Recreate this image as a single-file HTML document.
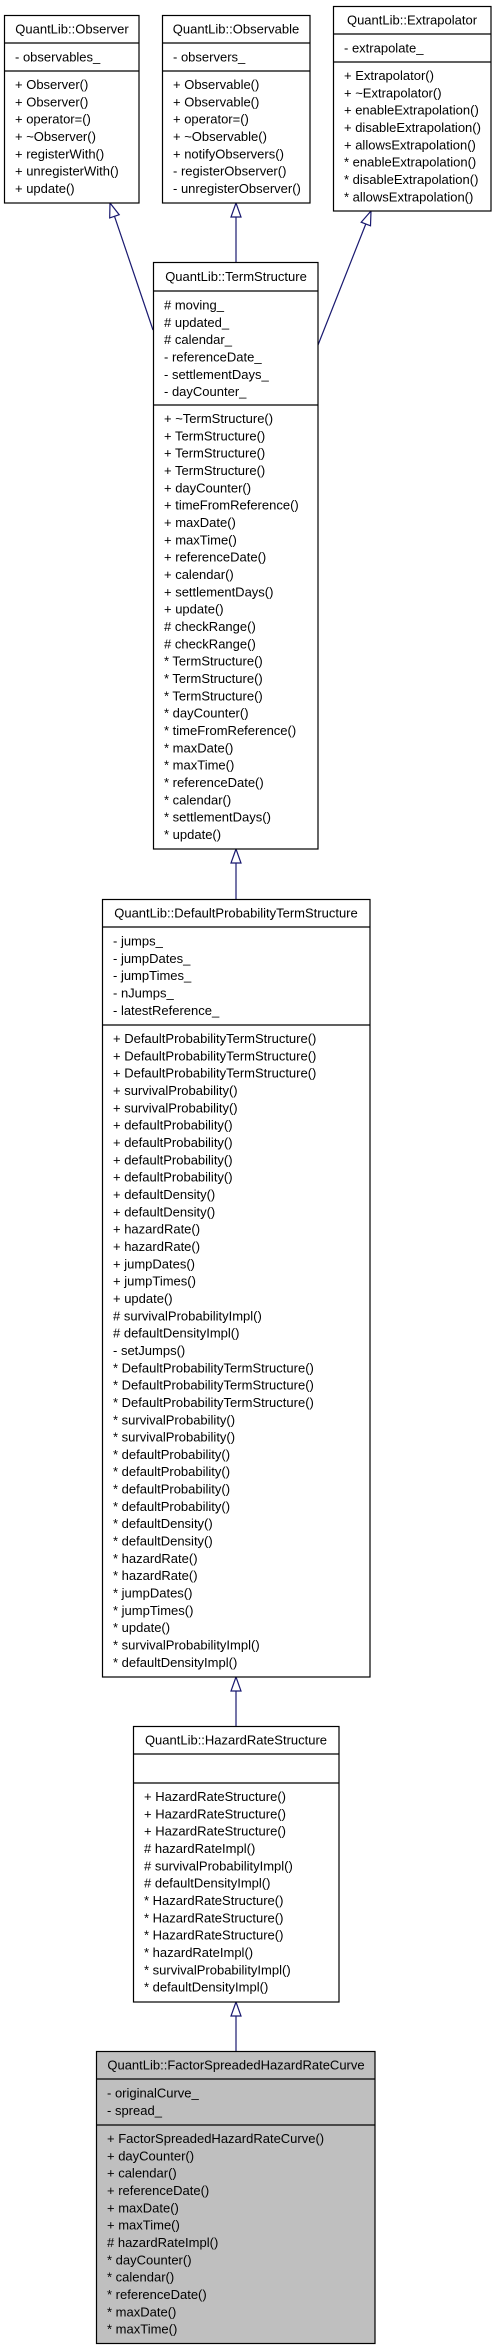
<!DOCTYPE html>
<html><head><meta charset="utf-8"><style>
html,body{margin:0;padding:0;background:#fff;}
svg{display:block;}
text{font-family:"Liberation Sans",Arial,sans-serif;font-size:13px;fill:#000;}
</style></head><body>
<svg width="496" height="2349" viewBox="0 0 496 2349" xmlns="http://www.w3.org/2000/svg">
<g fill="none" stroke="#191970" stroke-width="1.2">
<line x1="114.5" y1="216.3" x2="153" y2="330"/>
<polygon points="110,203 109.7,217.9 119.2,214.7" fill="#fff"/>
<line x1="236" y1="217" x2="236" y2="262"/>
<polygon points="236,203 231,217 241,217" fill="#fff"/>
<line x1="365.8" y1="224" x2="318" y2="345"/>
<polygon points="371,211 361.2,222.2 370.5,225.8" fill="#fff"/>
<line x1="236" y1="863" x2="236" y2="899"/>
<polygon points="236,849 231,863 241,863" fill="#fff"/>
<line x1="236" y1="1691" x2="236" y2="1726"/>
<polygon points="236,1677 231,1691 241,1691" fill="#fff"/>
<line x1="236" y1="2016" x2="236" y2="2051"/>
<polygon points="236,2002 231,2016 241,2016" fill="#fff"/>
</g>
<g stroke="#000" stroke-width="1.2" fill="#fff">
<rect x="4.5" y="15.5" width="134.5" height="187.5"/>
<line x1="4.5" y1="43" x2="139" y2="43"/><line x1="4.5" y1="71" x2="139" y2="71"/>
<rect x="162.5" y="15.5" width="147.5" height="187.5"/>
<line x1="162.5" y1="43" x2="310" y2="43"/><line x1="162.5" y1="71" x2="310" y2="71"/>
<rect x="333.5" y="6.5" width="157.5" height="204.5"/>
<line x1="333.5" y1="34" x2="491" y2="34"/><line x1="333.5" y1="62" x2="491" y2="62"/>
<rect x="153.5" y="262.5" width="164.5" height="586.5"/>
<line x1="153.5" y1="291" x2="318" y2="291"/><line x1="153.5" y1="405" x2="318" y2="405"/>
<rect x="102.5" y="899.5" width="267.5" height="777.5"/>
<line x1="102.5" y1="927" x2="370" y2="927"/><line x1="102.5" y1="1025" x2="370" y2="1025"/>
<rect x="133.5" y="1726.5" width="205.5" height="275.5"/>
<line x1="133.5" y1="1754" x2="339" y2="1754"/><line x1="133.5" y1="1783" x2="339" y2="1783"/>
<rect x="96.5" y="2051.5" width="278.5" height="292" fill="#bfbfbf"/>
<line x1="96.5" y1="2079" x2="375" y2="2079"/><line x1="96.5" y1="2125" x2="375" y2="2125"/>
</g>
<g text-anchor="middle">
<text x="72" y="33.5">QuantLib::Observer</text>
<text x="236" y="33.5">QuantLib::Observable</text>
<text x="412" y="24.5">QuantLib::Extrapolator</text>
<text x="236" y="281">QuantLib::TermStructure</text>
<text x="236" y="917.5">QuantLib::DefaultProbabilityTermStructure</text>
<text x="236" y="1744.5">QuantLib::HazardRateStructure</text>
<text x="236" y="2069.5">QuantLib::FactorSpreadedHazardRateCurve</text>
</g>
<text y="61.5"><tspan x="15">- observables_</tspan></text>
<text y="89"><tspan x="15">+ Observer()</tspan><tspan x="15" dy="17.33">+ Observer()</tspan><tspan x="15" dy="17.33">+ operator=()</tspan><tspan x="15" dy="17.33">+ ~Observer()</tspan><tspan x="15" dy="17.33">+ registerWith()</tspan><tspan x="15" dy="17.33">+ unregisterWith()</tspan><tspan x="15" dy="17.33">+ update()</tspan></text>
<text y="61.5"><tspan x="173">- observers_</tspan></text>
<text y="89"><tspan x="173">+ Observable()</tspan><tspan x="173" dy="17.33">+ Observable()</tspan><tspan x="173" dy="17.33">+ operator=()</tspan><tspan x="173" dy="17.33">+ ~Observable()</tspan><tspan x="173" dy="17.33">+ notifyObservers()</tspan><tspan x="173" dy="17.33">- registerObserver()</tspan><tspan x="173" dy="17.33">- unregisterObserver()</tspan></text>
<text y="52.5"><tspan x="344">- extrapolate_</tspan></text>
<text y="80"><tspan x="344">+ Extrapolator()</tspan><tspan x="344" dy="17.33">+ ~Extrapolator()</tspan><tspan x="344" dy="17.33">+ enableExtrapolation()</tspan><tspan x="344" dy="17.33">+ disableExtrapolation()</tspan><tspan x="344" dy="17.33">+ allowsExtrapolation()</tspan><tspan x="344" dy="17.33">* enableExtrapolation()</tspan><tspan x="344" dy="17.33">* disableExtrapolation()</tspan><tspan x="344" dy="17.33">* allowsExtrapolation()</tspan></text>
<text y="309.5"><tspan x="164"># moving_</tspan><tspan x="164" dy="17.33"># updated_</tspan><tspan x="164" dy="17.33"># calendar_</tspan><tspan x="164" dy="17.33">- referenceDate_</tspan><tspan x="164" dy="17.33">- settlementDays_</tspan><tspan x="164" dy="17.33">- dayCounter_</tspan></text>
<text y="423"><tspan x="164">+ ~TermStructure()</tspan><tspan x="164" dy="17.33">+ TermStructure()</tspan><tspan x="164" dy="17.33">+ TermStructure()</tspan><tspan x="164" dy="17.33">+ TermStructure()</tspan><tspan x="164" dy="17.33">+ dayCounter()</tspan><tspan x="164" dy="17.33">+ timeFromReference()</tspan><tspan x="164" dy="17.33">+ maxDate()</tspan><tspan x="164" dy="17.33">+ maxTime()</tspan><tspan x="164" dy="17.33">+ referenceDate()</tspan><tspan x="164" dy="17.33">+ calendar()</tspan><tspan x="164" dy="17.33">+ settlementDays()</tspan><tspan x="164" dy="17.33">+ update()</tspan><tspan x="164" dy="17.33"># checkRange()</tspan><tspan x="164" dy="17.33"># checkRange()</tspan><tspan x="164" dy="17.33">* TermStructure()</tspan><tspan x="164" dy="17.33">* TermStructure()</tspan><tspan x="164" dy="17.33">* TermStructure()</tspan><tspan x="164" dy="17.33">* dayCounter()</tspan><tspan x="164" dy="17.33">* timeFromReference()</tspan><tspan x="164" dy="17.33">* maxDate()</tspan><tspan x="164" dy="17.33">* maxTime()</tspan><tspan x="164" dy="17.33">* referenceDate()</tspan><tspan x="164" dy="17.33">* calendar()</tspan><tspan x="164" dy="17.33">* settlementDays()</tspan><tspan x="164" dy="17.33">* update()</tspan></text>
<text y="945.5"><tspan x="113">- jumps_</tspan><tspan x="113" dy="17.33">- jumpDates_</tspan><tspan x="113" dy="17.33">- jumpTimes_</tspan><tspan x="113" dy="17.33">- nJumps_</tspan><tspan x="113" dy="17.33">- latestReference_</tspan></text>
<text y="1043"><tspan x="113">+ DefaultProbabilityTermStructure()</tspan><tspan x="113" dy="17.33">+ DefaultProbabilityTermStructure()</tspan><tspan x="113" dy="17.33">+ DefaultProbabilityTermStructure()</tspan><tspan x="113" dy="17.33">+ survivalProbability()</tspan><tspan x="113" dy="17.33">+ survivalProbability()</tspan><tspan x="113" dy="17.33">+ defaultProbability()</tspan><tspan x="113" dy="17.33">+ defaultProbability()</tspan><tspan x="113" dy="17.33">+ defaultProbability()</tspan><tspan x="113" dy="17.33">+ defaultProbability()</tspan><tspan x="113" dy="17.33">+ defaultDensity()</tspan><tspan x="113" dy="17.33">+ defaultDensity()</tspan><tspan x="113" dy="17.33">+ hazardRate()</tspan><tspan x="113" dy="17.33">+ hazardRate()</tspan><tspan x="113" dy="17.33">+ jumpDates()</tspan><tspan x="113" dy="17.33">+ jumpTimes()</tspan><tspan x="113" dy="17.33">+ update()</tspan><tspan x="113" dy="17.33"># survivalProbabilityImpl()</tspan><tspan x="113" dy="17.33"># defaultDensityImpl()</tspan><tspan x="113" dy="17.33">- setJumps()</tspan><tspan x="113" dy="17.33">* DefaultProbabilityTermStructure()</tspan><tspan x="113" dy="17.33">* DefaultProbabilityTermStructure()</tspan><tspan x="113" dy="17.33">* DefaultProbabilityTermStructure()</tspan><tspan x="113" dy="17.33">* survivalProbability()</tspan><tspan x="113" dy="17.33">* survivalProbability()</tspan><tspan x="113" dy="17.33">* defaultProbability()</tspan><tspan x="113" dy="17.33">* defaultProbability()</tspan><tspan x="113" dy="17.33">* defaultProbability()</tspan><tspan x="113" dy="17.33">* defaultProbability()</tspan><tspan x="113" dy="17.33">* defaultDensity()</tspan><tspan x="113" dy="17.33">* defaultDensity()</tspan><tspan x="113" dy="17.33">* hazardRate()</tspan><tspan x="113" dy="17.33">* hazardRate()</tspan><tspan x="113" dy="17.33">* jumpDates()</tspan><tspan x="113" dy="17.33">* jumpTimes()</tspan><tspan x="113" dy="17.33">* update()</tspan><tspan x="113" dy="17.33">* survivalProbabilityImpl()</tspan><tspan x="113" dy="17.33">* defaultDensityImpl()</tspan></text>
<text y="1801"><tspan x="144">+ HazardRateStructure()</tspan><tspan x="144" dy="17.33">+ HazardRateStructure()</tspan><tspan x="144" dy="17.33">+ HazardRateStructure()</tspan><tspan x="144" dy="17.33"># hazardRateImpl()</tspan><tspan x="144" dy="17.33"># survivalProbabilityImpl()</tspan><tspan x="144" dy="17.33"># defaultDensityImpl()</tspan><tspan x="144" dy="17.33">* HazardRateStructure()</tspan><tspan x="144" dy="17.33">* HazardRateStructure()</tspan><tspan x="144" dy="17.33">* HazardRateStructure()</tspan><tspan x="144" dy="17.33">* hazardRateImpl()</tspan><tspan x="144" dy="17.33">* survivalProbabilityImpl()</tspan><tspan x="144" dy="17.33">* defaultDensityImpl()</tspan></text>
<text y="2097.5"><tspan x="107">- originalCurve_</tspan><tspan x="107" dy="17.33">- spread_</tspan></text>
<text y="2143"><tspan x="107">+ FactorSpreadedHazardRateCurve()</tspan><tspan x="107" dy="17.33">+ dayCounter()</tspan><tspan x="107" dy="17.33">+ calendar()</tspan><tspan x="107" dy="17.33">+ referenceDate()</tspan><tspan x="107" dy="17.33">+ maxDate()</tspan><tspan x="107" dy="17.33">+ maxTime()</tspan><tspan x="107" dy="17.33"># hazardRateImpl()</tspan><tspan x="107" dy="17.33">* dayCounter()</tspan><tspan x="107" dy="17.33">* calendar()</tspan><tspan x="107" dy="17.33">* referenceDate()</tspan><tspan x="107" dy="17.33">* maxDate()</tspan><tspan x="107" dy="17.33">* maxTime()</tspan></text>
</svg>
</body></html>
